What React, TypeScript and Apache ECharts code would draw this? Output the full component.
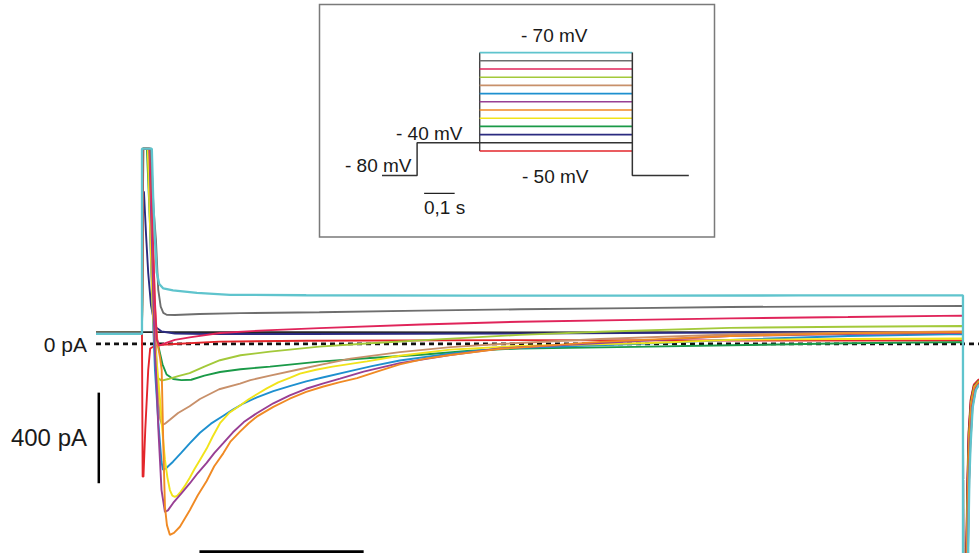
import React, { useEffect, useRef } from "react";
import * as echarts from "echarts";

// ---------- Main recording: [time (ms) from test-pulse onset, current (pA)] ----------
const TRACE_P70 = [[-28,44],[0,44],[0,862],[6,862],[6.8,650],[7.9,460],[9,315],[10.5,265],[13,245],[18.9,236],[33.5,225],[53.6,217],[100,215],[200,213],[300,213],[400,214],[500,214],[500,-3000]];
const TRACE_P60 = [[-28,50],[0,50],[0.4,862],[5.5,862],[7,600],[8.5,460],[9.9,240],[11.4,165],[13,137],[15,129],[20,128],[35,132],[60,136],[108,140],[170,147],[230,153],[300,158],[358,163],[430,166],[500,168]];
const TRACE_P50 = [[-28,47],[0,47],[0.5,862],[5,862],[6.5,500],[7.8,200],[9,20],[10.5,-8],[13,0],[20,18],[30,30],[47.5,48],[75,60],[108,70],[170,86],[230,98],[300,106],[358,113],[430,119],[500,125]];
const TRACE_P40 = [[-28,49],[0,49],[0.6,862],[4.5,862],[6,400],[7.2,50],[8.3,-100],[9.5,-150],[12,-162],[16,-155],[22,-142],[29,-129],[38,-100],[47.5,-72],[60,-50],[78,-34],[108,-12],[139,3],[180,20],[230,40],[279,54],[358,71],[430,76],[500,79]];
const TRACE_P30 = [[-28,48],[0,48],[0.6,862],[5,862],[6.5,450],[7.8,100],[8.8,-60],[10,-250],[11,-330],[12.2,-358],[14,-352],[17,-335],[22,-305],[29,-275],[35.3,-243],[47,-200],[59.7,-175],[66,-160],[78,-140],[96,-112],[110,-90],[127,-65],[157,-36],[188,-14],[218,0],[279,22],[358,42],[430,50],[500,55]];
const TRACE_P20 = [[-28,46],[0,46],[0.6,862],[4,862],[5.3,400],[6.5,150],[7.9,-115],[10,-350],[11.9,-520],[12.8,-556],[14.5,-550],[18.9,-520],[24,-480],[29.2,-438],[35.3,-392],[42,-352],[49.3,-318],[55.4,-290],[62,-262],[70,-236],[80,-208],[90,-186],[100,-165],[110,-148],[126.7,-120],[140,-98],[157,-73],[187.6,-43],[218,-20],[255,-12],[300,0],[358,18],[430,35],[500,44]];
const TRACE_P10 = [[-28,48],[0,48],[0.7,862],[4.5,862],[6,450],[7,150],[8,-50],[8.5,-115],[10,-380],[11.9,-645],[14,-742],[15.8,-735],[19,-702],[24,-660],[29.2,-615],[34,-570],[39.4,-525],[44,-482],[49.5,-438],[55.4,-390],[62,-345],[69.9,-306],[80,-262],[90,-227],[100,-198],[110,-175],[120.6,-153],[135,-122],[157,-85],[187.6,-49],[218,-20],[279,4],[358,35],[430,44],[500,49]];
const TRACE_0 = [[-28,50],[0,50],[0.8,862],[5,862],[6.5,500],[8,150],[9.5,0],[11,-60],[12,-115],[13,-450],[14,-720],[15.2,-800],[17,-843],[19.5,-834],[23.1,-807],[29.2,-733],[34,-668],[39.4,-605],[44,-540],[49.5,-483],[54,-430],[59.7,-387],[65,-350],[69.9,-321],[80,-278],[90,-242],[100,-212],[110,-189],[120,-170],[131,-151],[145,-118],[157,-90],[172,-66],[187.6,-49],[218,-22],[279,9],[358,35],[430,47],[500,53]];
const TRACE_M10 = [[-28,47],[0,47],[0.6,862],[3.5,862],[5,500],[6.5,150],[7.9,0],[9.5,-120],[11,-247],[12.5,-390],[14,-512],[15.5,-590],[17,-645],[18.5,-670],[20,-675],[21.5,-670],[23,-658],[26,-628],[29.2,-590],[32,-552],[35.3,-512],[39.4,-462],[43,-410],[47.5,-350],[53,-305],[59.7,-272],[65,-244],[70,-222],[76,-196],[83,-170],[90,-150],[96.2,-131],[106,-114],[116,-100],[137,-77],[157,-52],[187.6,-25],[230,-9],[309,4],[358,18],[430,22],[500,24]];
const TRACE_M20 = [[-28,50],[0,50],[0.8,862],[3,862],[4.5,600],[6,300],[7.3,90],[10,-10],[12.5,-90],[15,-135],[19,-155],[24,-160],[30,-158],[38,-140],[47.5,-124],[60,-112],[78,-100],[108,-78],[139,-62],[170,-48],[200,-30],[230,-20],[300,-13],[358,-6],[430,3],[500,8]];
const TRACE_M30 = [[-28,50],[0,50],[0.6,672],[1.2,672],[2.5,480],[3.8,313],[5.5,170],[8,76],[12,55],[20,46],[40,44],[100,44],[230,46],[358,50],[500,52]];
const TRACE_M40 = [[-28,52],[100,52],[230,51],[358,52],[500,52]];
const TRACE_M50 = [[-28,47],[0,47],[0.4,-586],[0.9,-586],[2,-380],[3.8,-115],[5,-20],[8,-8],[12,-4],[20,0],[47,10],[100,14],[230,17],[358,15],[500,15]];

// tail currents after repolarisation to -80 mV
const TAIL_M50 = [[500.3,-3000],[501.7,-1500],[502.0,-900],[502.7,-600],[503.4,-390],[504.7,-245],[506.6,-180],[509.8,-155]];
const TAIL_M40 = [[500,52],[500.3,-3000],[501.8,-1500],[502.1,-900],[502.8,-600],[503.5,-395],[504.8,-248],[506.7,-182],[509.8,-158]];
const TAIL_M30 = [[500.3,-3000],[501.9,-1500],[502.2,-900],[502.9,-600],[503.6,-400],[504.9,-251],[506.8,-184],[509.8,-160]];
const TAIL_M20 = [[500.3,-3000],[502.0,-1500],[502.3,-900],[503.0,-600],[503.7,-405],[505.0,-254],[506.9,-186],[509.8,-162]];
const TAIL_M10 = [[500.3,-3000],[502.1,-1500],[502.4,-900],[503.1,-600],[503.8,-410],[505.1,-257],[507.0,-188],[509.8,-164]];
const TAIL_0 = [[500.3,-3000],[502.2,-1500],[502.5,-900],[503.2,-600],[503.9,-415],[505.2,-260],[507.1,-190],[509.8,-166]];
const TAIL_P10 = [[500.3,-3000],[502.3,-1500],[502.6,-900],[503.3,-600],[504.0,-420],[505.3,-263],[507.2,-192],[509.8,-168]];
const TAIL_P20 = [[500.3,-3000],[502.4,-1500],[502.7,-900],[503.4,-600],[504.1,-425],[505.4,-266],[507.3,-194],[509.8,-170]];
const TAIL_P30 = [[500.3,-3000],[502.5,-1500],[502.8,-900],[503.5,-600],[504.2,-430],[505.5,-269],[507.4,-196],[509.8,-172]];
const TAIL_P40 = [[500.3,-3000],[502.6,-1500],[502.9,-900],[503.6,-600],[504.3,-435],[505.6,-272],[507.5,-198],[509.8,-174]];
const TAIL_P50 = [[500.3,-3000],[502.7,-1500],[503.0,-900],[503.7,-600],[504.4,-440],[505.7,-275],[507.6,-200],[509.8,-176]];
const TAIL_P60 = [[500.3,-3000],[502.8,-1500],[503.1,-900],[503.8,-600],[504.5,-445],[505.8,-278],[507.7,-202],[509.8,-178]];
const TAIL_P70 = [[502.9,-1500],[503.2,-900],[503.9,-600],[504.6,-450],[505.9,-281],[507.8,-204],[509.8,-180]];

// scale bars and zero line (main)
const ZERO_LINE = [[-28,0],[509.76,0]];
const BAR_400PA = [[-26.3,-215],[-26.3,-615]];
const BAR_100MS = [[35,-917],[135,-917]];

// ---------- Inset: voltage protocol [time (ms), mV] ----------
const PROTOCOL_LEVELS_MV = [70, 60, 50, 40, 30, 20, 10, 0, -10, -20, -30, -40, -50];
const PULSE_START_MS = 0;
const PULSE_END_MS = 500;
const PROTOCOL_HOLD = [[-320,-80],[-205,-80],[-205,-40],[500,-40]];
const PROTOCOL_ON_EDGE = [[0,-50],[0,70]];
const PROTOCOL_OFF = [[500,70],[500,-80],[685,-80]];
const INSET_BAR_100MS = [[-182,-101.6],[-82,-101.6]];

const COLORS: Record<string, string> = {
  "70": "#5fc4cd",
  "60": "#6e6e6e",
  "50": "#e0245a",
  "40": "#a3c93a",
  "30": "#c8906a",
  "20": "#1e90cf",
  "10": "#983f94",
  "0": "#f08a24",
  "-10": "#f1e31a",
  "-20": "#1a9a48",
  "-30": "#2b2b80",
  "-40": "#262626",
  "-50": "#e3262b",
};

const TRACES: [number, number[][], number[][]][] = [
  [-40, TRACE_M40, TAIL_M40],
  [-30, TRACE_M30, TAIL_M30],
  [-50, TRACE_M50, TAIL_M50],
  [-20, TRACE_M20, TAIL_M20],
  [40, TRACE_P40, TAIL_P40],
  [30, TRACE_P30, TAIL_P30],
  [20, TRACE_P20, TAIL_P20],
  [-10, TRACE_M10, TAIL_M10],
  [10, TRACE_P10, TAIL_P10],
  [0, TRACE_0, TAIL_0],
  [50, TRACE_P50, TAIL_P50],
  [60, TRACE_P60, TAIL_P60],
  [70, TRACE_P70, TAIL_P70],
];

const FONT = "'Liberation Sans', Arial, Helvetica, sans-serif";

export default function App() {
  const ref = useRef<HTMLDivElement>(null);
  useEffect(() => {
    if (!ref.current) return;
    const chart = echarts.init(ref.current, undefined, { renderer: "svg" });

    const line = (data: number[][], color: string, width: number, idx: number, extra: any = {}) => ({
      type: "line",
      xAxisIndex: idx,
      yAxisIndex: idx,
      data,
      symbol: "none",
      showSymbol: false,
      silent: true,
      lineStyle: { color, width, ...(extra.lineStyle || {}) },
      z: extra.z ?? 2,
    });

    const series: any[] = [];
    series.push(line(ZERO_LINE, "#111", 2.8, 0, { lineStyle: { type: [5, 4] }, z: 1 }));
    TRACES.forEach(([mv, tr, tail]) => {
      series.push(line([...tr, ...tail], COLORS[String(mv)], mv === 70 ? 2.3 : 1.9, 0));
    });
    series.push(line(BAR_400PA, "#000", 2.5, 0));
    series.push(line(BAR_100MS, "#000", 3, 0));

    series.push(line(PROTOCOL_ON_EDGE, "#444", 1.4, 1, { z: 3 }));
    PROTOCOL_LEVELS_MV.forEach((mv) => {
      if (mv === -40) return;
      series.push(line([[PULSE_START_MS, mv], [PULSE_END_MS, mv]], COLORS[String(mv)], 1.6, 1, { z: 4 }));
    });
    series.push(line(PROTOCOL_HOLD, "#333", 1.5, 1, { z: 5 }));
    series.push(line(PROTOCOL_OFF, "#333", 1.5, 1, { z: 5 }));
    series.push(line(INSET_BAR_100MS, "#222", 1.2, 1, { z: 5 }));

    const txt = (text: string, x: number, y: number, size: number, align: string) => ({
      type: "text",
      x,
      y,
      z: 100,
      silent: true,
      style: { text, fontSize: size, fontFamily: FONT, fill: "#1a1a1a", align, verticalAlign: "middle" },
    });

    chart.setOption({
      animation: false,
      backgroundColor: "#ffffff",
      grid: [
        { left: 96, top: 148, width: 883, height: 405, show: false },
        { left: 319.5, top: 4.5, width: 395, height: 232.5, show: true, borderColor: "#7a7a7a", borderWidth: 1.5, backgroundColor: "#ffffff", z: 0 },
      ],
      xAxis: [
        { type: "value", gridIndex: 0, min: -28, max: 509.76, show: false, splitLine: { show: false } },
        { type: "value", gridIndex: 1, min: -524.7, max: 769.1, show: false, splitLine: { show: false } },
      ],
      yAxis: [
        { type: "value", gridIndex: 0, min: -923, max: 865, show: false, splitLine: { show: false } },
        { type: "value", gridIndex: 1, min: -154.88, max: 128.66, show: false, splitLine: { show: false } },
      ],
      series,
      graphic: [
        txt("0 pA", 87, 344, 21, "right"),
        txt("400 pA", 87, 437, 24, "right"),
        txt("- 70 mV", 521, 35, 19, "left"),
        txt("- 40 mV", 396, 133, 19, "left"),
        txt("- 80 mV", 345, 165, 19, "left"),
        txt("- 50 mV", 522, 176, 19, "left"),
        txt("0,1 s", 424, 207, 19, "left"),
      ],
    });
    return () => chart.dispose();
  }, []);

  return <div ref={ref} style={{ position: "fixed", left: 0, top: 0, width: 979, height: 553 }} />;
}
